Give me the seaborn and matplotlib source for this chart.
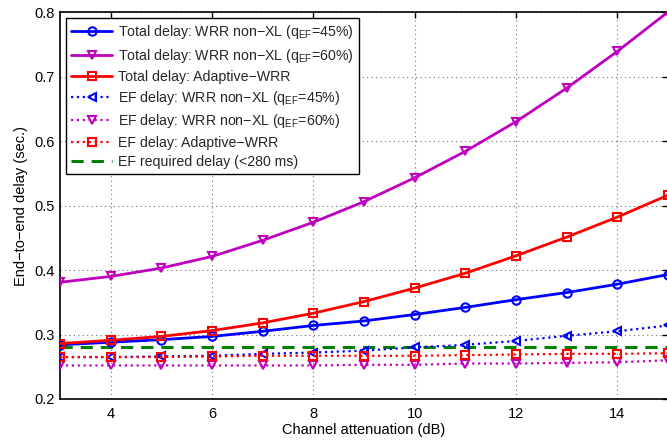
import matplotlib
matplotlib.use("Agg")
import matplotlib.pyplot as plt
import seaborn as sns
import pandas as pd

# Channel attenuation (dB)
attenuation = [3, 4, 5, 6, 7, 8, 9, 10, 11, 12, 13, 14, 15]

# End-to-end delays (sec.)
total_wrr45 = [0.284, 0.288, 0.292, 0.297, 0.305, 0.314, 0.321, 0.331, 0.342, 0.354, 0.365, 0.378, 0.393]
total_wrr60 = [0.381, 0.390, 0.403, 0.421, 0.446, 0.474, 0.506, 0.543, 0.584, 0.630, 0.682, 0.739, 0.800]
total_adaptive = [0.286, 0.291, 0.297, 0.306, 0.318, 0.333, 0.351, 0.372, 0.395, 0.422, 0.451, 0.482, 0.516]
ef_wrr45 = [0.265, 0.265, 0.266, 0.267, 0.270, 0.272, 0.275, 0.280, 0.284, 0.290, 0.298, 0.305, 0.314]
ef_wrr60 = [0.252, 0.252, 0.252, 0.252, 0.252, 0.252, 0.253, 0.253, 0.255, 0.255, 0.256, 0.257, 0.260]
ef_adaptive = [0.265, 0.265, 0.265, 0.266, 0.267, 0.267, 0.267, 0.267, 0.268, 0.269, 0.270, 0.270, 0.271]
ef_required = 0.28

q = r"$\mathregular{q_{EF}}$"
labels = [
    "Total delay: WRR non\u2212XL (" + q + "=45%)",
    "Total delay: WRR non\u2212XL (" + q + "=60%)",
    "Total delay: Adaptive\u2212WRR",
    "EF delay: WRR non\u2212XL (" + q + "=45%)",
    "EF delay: WRR non\u2212XL (" + q + "=60%)",
    "EF delay: Adaptive\u2212WRR",
    "EF required delay (<280 ms)",
]

sns.set_theme(style="white")
plt.rcParams["font.family"] = ["Liberation Sans", "DejaVu Sans"]
plt.rcParams["mathtext.fontset"] = "custom"
plt.rcParams["mathtext.rm"] = "Liberation Sans"

fig = plt.figure(figsize=(6.67, 4.42), dpi=100)
W, H = 667, 442
ax = fig.add_axes([60 / W, (H - 399) / H, 608 / W, 387 / H])

BLUE = "#0000ff"
MAGENTA = "#bf00bf"
RED = "#ff0000"
GREEN = "#008000"

series = [
    (total_wrr45, BLUE, "o", "-", 2.0),
    (total_wrr60, MAGENTA, "v", "-", 2.0),
    (total_adaptive, RED, "s", "-", 2.0),
    (ef_wrr45, BLUE, "<", ":", 1.6),
    (ef_wrr60, MAGENTA, "v", ":", 1.6),
    (ef_adaptive, RED, "s", ":", 1.6),
]

for (vals, color, mk, ls, lw), lab in zip(series, labels[:6]):
    df = pd.DataFrame({"x": attenuation, "y": vals})
    sns.lineplot(data=df, x="x", y="y", ax=ax, color=color, marker=mk,
                 linestyle=ls, linewidth=lw, markersize=6,
                 markerfacecolor="none", markeredgecolor=color,
                 markeredgewidth=1.5, label=lab, zorder=3)

req_df = pd.DataFrame({"x": [attenuation[0], attenuation[-1]], "y": [ef_required] * 2})
sns.lineplot(data=req_df, x="x", y="y", ax=ax, color=GREEN, linewidth=2.2,
             dashes=False, label=labels[6], zorder=2.5)
ax.lines[-1].set_dashes([4.0, 2.6])

ax.set_xlim(3, 15)
ax.set_ylim(0.2, 0.8)
ax.set_xticks([4, 6, 8, 10, 12, 14])
ax.set_yticks([0.2, 0.3, 0.4, 0.5, 0.6, 0.7, 0.8])
ax.set_yticklabels(["0.2", "0.3", "0.4", "0.5", "0.6", "0.7", "0.8"])

ax.grid(True, color="#707070", linestyle=(0, (1, 3)), linewidth=0.8)
ax.set_axisbelow(True)
for sp in ax.spines.values():
    sp.set_color("black")
    sp.set_linewidth(1.2)
ax.tick_params(direction="in", length=4, width=1, colors="black",
               top=True, right=True, labelsize=10.5)
ax.tick_params(axis="x", pad=6)
ax.tick_params(axis="y", pad=4)

ax.set_xlabel("Channel attenuation (dB)", fontsize=10.5, color="black")
ax.set_ylabel("End\u2212to\u2212end delay (sec.)", fontsize=10.5, color="black")
ax.xaxis.label.set_va("center")
ax.yaxis.label.set_va("center")
ax.xaxis.set_label_coords(0.5, (399 - 430) / 387)
ax.yaxis.set_label_coords((21 - 60) / 608, 0.5)

leg = ax.legend(loc="upper left", bbox_to_anchor=(6 / 608, (399 - 18) / 387),
                borderaxespad=0, fontsize=10.2, handlelength=2.9,
                handletextpad=0.4, labelspacing=0.37, borderpad=0.38,
                frameon=True, fancybox=False, framealpha=1)
leg.get_frame().set_edgecolor("black")
leg.get_frame().set_linewidth(1.0)

fig.savefig("out.png", dpi=100)
